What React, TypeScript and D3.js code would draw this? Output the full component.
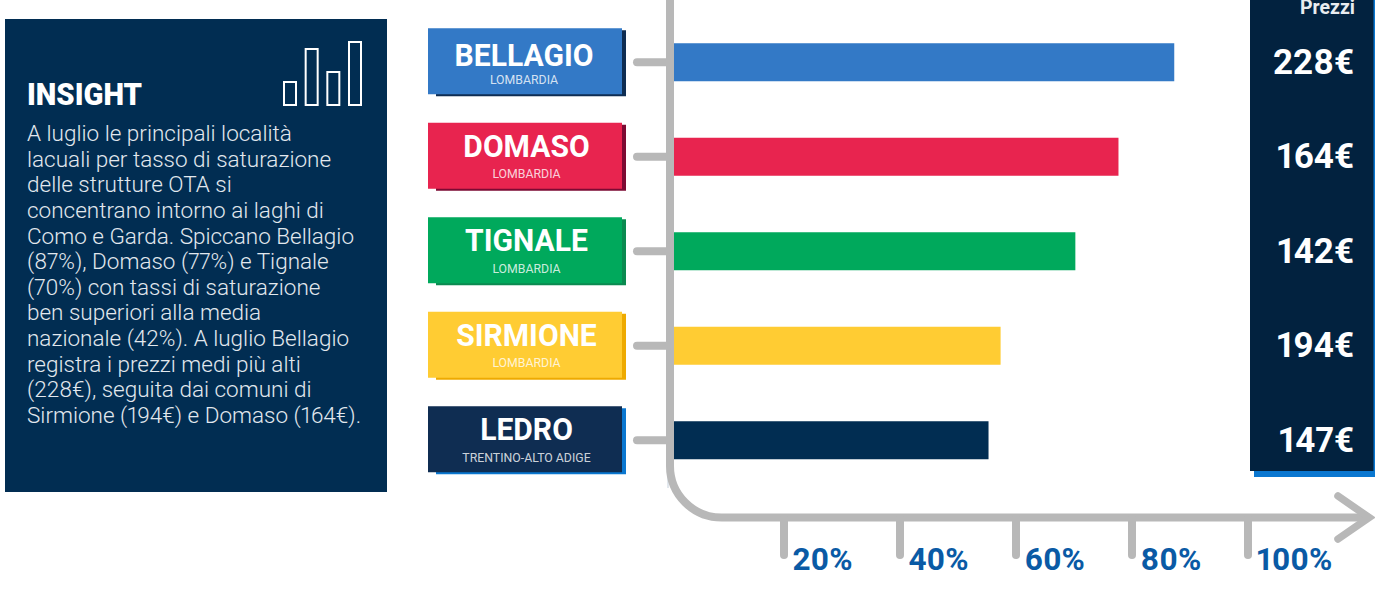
import React from "react";
import * as d3 from "d3";

const places = ["BELLAGIO", "DOMASO", "TIGNALE", "SIRMIONE", "LEDRO"];
const regions = ["LOMBARDIA", "LOMBARDIA", "LOMBARDIA", "LOMBARDIA", "TRENTINO-ALTO ADIGE"];
const saturation = [87, 77.3, 69.8, 56.8, 54.7];
const prices = ["228€", "164€", "142€", "194€", "147€"];
const colors = ["#3379c6", "#e8244f", "#00a95c", "#ffcc33", "#0f2d52"];
const barColors = ["#3379c6", "#e8244f", "#00a95c", "#ffcc33", "#012d52"];
const shadows = ["#0f2d52", "#7c0a33", "#0b8a50", "#eeaa00", "#0a77d0"];
const axisTicks = [20, 40, 60, 80, 100];
const iconValues = [23, 56, 33, 63];
const insightLines = [
  "A luglio le principali località",
  "lacuali per tasso di saturazione",
  "delle strutture OTA si",
  "concentrano intorno ai laghi di",
  "Como e Garda. Spiccano Bellagio",
  "(87%), Domaso (77%) e Tignale",
  "(70%) con tassi di saturazione",
  "ben superiori alla media",
  "nazionale (42%). A luglio Bellagio",
  "registra i prezzi medi più alti",
  "(228€), seguita dai comuni di",
  "Sirmione (194€) e Domaso (164€).",
];

const FONT = "Roboto, sans-serif";
const GREY = "#b8b8b8";
const PNUM = { fontVariantNumeric: "proportional-nums" } as React.CSSProperties;

export default function App() {
  const x = d3.scaleLinear().domain([0, 100]).range([674, 1249]);
  const tickX = d3.scaleLinear().domain([20, 100]).range([784, 1248]);
  const y = d3.scaleBand<string>().domain(places).range([15, 487.5]).paddingInner(0.6).paddingOuter(0.3);
  const cy = (p: string) => (y(p) as number) + y.bandwidth() / 2;
  const lineY = d3.scaleLinear().domain([0, insightLines.length - 1]).range([141, 423]);
  const iconX = d3.scalePoint<number>().domain(d3.range(iconValues.length)).range([284, 349]);
  const axisPath = d3.path();
  axisPath.moveTo(670, -10);
  axisPath.lineTo(670, 466);
  axisPath.arcTo(670, 517.5, 721.5, 517.5, 51.5);
  axisPath.lineTo(1368, 517.5);
  const arrow = d3.line()([[1338, 496], [1369, 517.5], [1338, 539]]) as string;

  return (
    <svg width={1375} height={611} style={{ position: "absolute", left: 0, top: 0, display: "block", fontFamily: FONT }}>
      <rect width={1375} height={611} fill="#fff" />
      <rect x={5} y={19} width={382} height={473} fill="#012d52" />
      <text x={27} y={105} fill="#fff" fontSize={31} fontWeight={900} textLength={115} lengthAdjust="spacingAndGlyphs">INSIGHT</text>
      {iconValues.map((v, i) => (
        <rect key={i} x={iconX(i)} y={105 - v} width={12} height={v} fill="none" stroke="#fff" strokeWidth={2} />
      ))}
      {insightLines.map((l, i) => (
        <text key={i} x={27} y={lineY(i)} fill="#e2e8ee" fontSize={22.5} fontWeight={300} style={PNUM}>{l}</text>
      ))}

      <line x1={668} x2={668} y1={468} y2={488} stroke="#c5d0dc" strokeWidth={1} />
      <path d={axisPath.toString()} fill="none" stroke={GREY} strokeWidth={8} />
      <path d={arrow} fill="none" stroke={GREY} strokeWidth={7.5} strokeLinecap="round" strokeLinejoin="miter" />
      {axisTicks.map((t) => (
        <g key={t}>
          <line x1={tickX(t)} x2={tickX(t)} y1={518} y2={555} stroke={GREY} strokeWidth={8} strokeLinecap="round" />
          <text x={tickX(t) + 8.5} y={570} fill="#0a5aa5" fontSize={31.5} fontWeight={700} style={PNUM}>{t}%</text>
        </g>
      ))}

      {places.map((p, i) => {
        const c = cy(p);
        const first = i === 0;
        const titleX = first ? 524 : 526.5;
        return (
          <g key={p}>
            <line x1={637} x2={668} y1={c} y2={c} stroke={GREY} strokeWidth={8} strokeLinecap="round" />
            <rect x={436} y={c - 32} width={190} height={66} fill={shadows[i]} />
            <rect x={428} y={c - 34} width={194} height={66} fill={colors[i]} />
            <text transform={`translate(${titleX},${first ? c + 4 : c}) scale(0.94,1)`} textAnchor="middle" fill="#fff" fontSize={32} fontWeight={700}>{p}</text>
            <text x={titleX} y={c + 21.5} textAnchor="middle" fill="#fff" fillOpacity={0.8} fontSize={12.3}>{regions[i]}</text>
            <rect x={x(0)} y={c - 19} width={x(saturation[i]) - x(0)} height={38} fill={barColors[i]} />
          </g>
        );
      })}

      <rect x={1254} y={-5} width={121} height={482} fill="#0a77d0" />
      <rect x={1250} y={-5} width={123.5} height={476} fill="#02223f" />
      <text x={1355} y={14} textAnchor="end" fill="#e8ecf0" fontSize={19.5} fontWeight={700}>Prezzi</text>
      {places.map((p, i) => (
        <text key={p} x={1354} y={cy(p) + 11.5} textAnchor="end" fill="#fff" fontSize={35} fontWeight={700} style={PNUM}>{prices[i]}</text>
      ))}
    </svg>
  );
}
